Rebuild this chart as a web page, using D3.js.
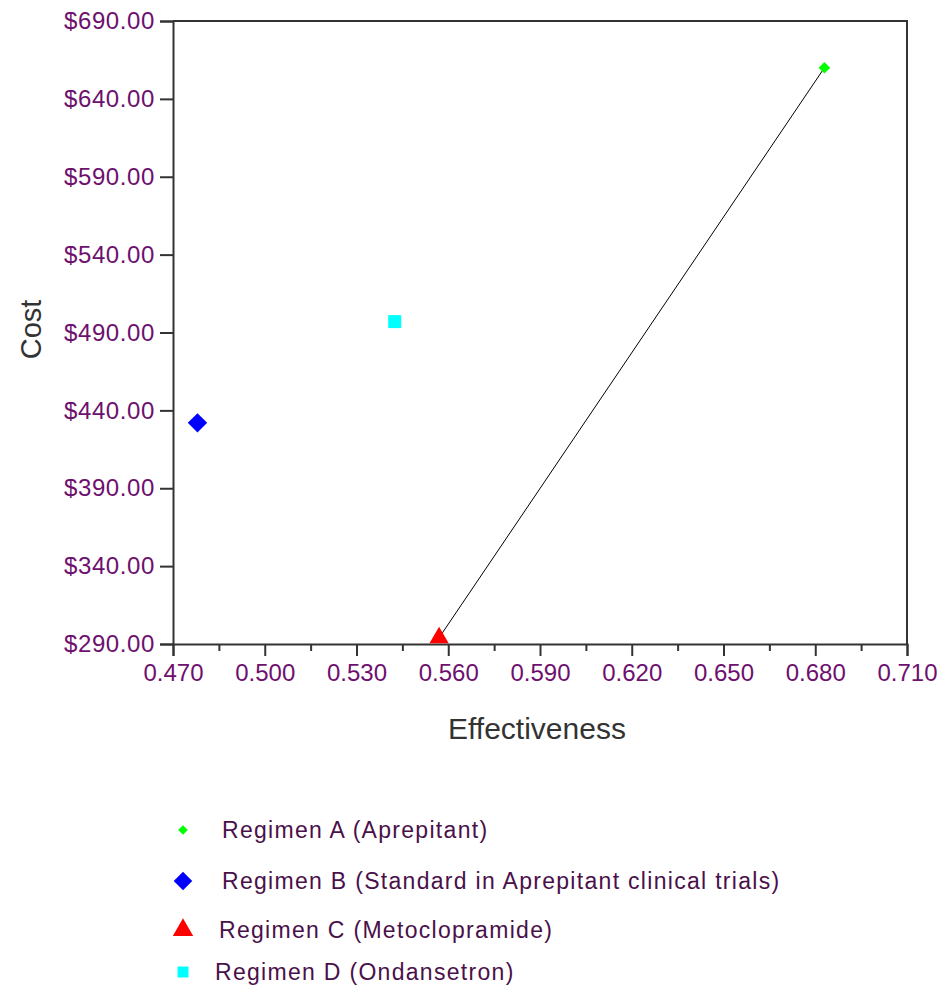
<!DOCTYPE html>
<html>
<head>
<meta charset="utf-8">
<script src="https://cdn.jsdelivr.net/npm/d3@7"></script>
<style>
  body { margin: 0; background: #fff; }
  svg { display: block; }
  text { font-family: 'Liberation Sans', Arial, sans-serif; }
</style>
</head>
<body>
<div id="chart"></div>
<script>
// Regimen cost-effectiveness data
const regimens = ['Regimen A (Aprepitant)', 'Regimen B (Standard in Aprepitant clinical trials)', 'Regimen C (Metoclopramide)', 'Regimen D (Ondansetron)']
const effectiveness = [0.683, 0.478, 0.557, 0.5425]
const cost = [660, 432, 294, 497]
const colors = ['#00ff00', '#0000ff', '#ff0000', '#00ffff']
const shapes = ['diamond', 'diamond', 'triangle', 'square']

// Axis ticks
const xTicks = [0.47, 0.5, 0.53, 0.56, 0.59, 0.62, 0.65, 0.68, 0.71]
const xMinorTicks = [0.485, 0.515, 0.545, 0.575, 0.605, 0.635, 0.665, 0.695]
const yTicks = [290, 340, 390, 440, 490, 540, 590, 640, 690]

// Frontier line connects C -> A
const frontier = [2, 0]

const width = 943
const height = 989
const margin = { top: 21, right: 36, bottom: 345, left: 173 }

const svg = d3
  .select('#chart')
  .append('svg')
  .attr('width', width)
  .attr('height', height)

const x = d3
  .scaleLinear()
  .domain([0.47, 0.71])
  .range([margin.left, width - margin.right])

const y = d3
  .scaleLinear()
  .domain([290, 690])
  .range([height - margin.bottom, margin.top])

const axisColor = '#333'
const tickText = '#6e106e'

// Frame (top and right)
svg
  .append('path')
  .attr('d', `M${x(0.47)},${y(690)}H${x(0.71)}V${y(290)}`)
  .attr('fill', 'none')
  .attr('stroke', axisColor)
  .attr('stroke-width', 2)

// X axis
const xAxis = svg
  .append('g')
  .attr('transform', `translate(0,${y(290)})`)
  .call(
    d3
      .axisBottom(x)
      .tickValues(xTicks)
      .tickFormat(d3.format('.3f'))
      .tickSize(12)
      .tickPadding(8)
  )
xAxis.select('.domain').attr('stroke', axisColor).attr('stroke-width', 2)
xAxis.selectAll('.tick line').attr('stroke', axisColor).attr('stroke-width', 2)
xAxis
  .selectAll('.tick text')
  .attr('fill', tickText)
  .style('font-size', '24px')

svg
  .append('g')
  .attr('transform', `translate(0,${y(290)})`)
  .call(d3.axisBottom(x).tickValues(xMinorTicks).tickSize(7).tickFormat(''))
  .call((g) => g.select('.domain').remove())
  .selectAll('.tick line')
  .attr('stroke', axisColor)
  .attr('stroke-width', 2)

// Y axis
const yAxis = svg
  .append('g')
  .attr('transform', `translate(${x(0.47)},0)`)
  .call(
    d3
      .axisLeft(y)
      .tickValues(yTicks)
      .tickFormat((d) => '$' + d3.format('.2f')(d))
      .tickSize(13)
      .tickPadding(5)
  )
yAxis.select('.domain').attr('stroke', axisColor).attr('stroke-width', 2)
yAxis.selectAll('.tick line').attr('stroke', axisColor).attr('stroke-width', 2)
yAxis
  .selectAll('.tick text')
  .attr('fill', tickText)
  .style('font-size', '24px')
  .style('letter-spacing', '0.6px')

// Axis titles
svg
  .append('text')
  .attr('x', (x(0.47) + x(0.71)) / 2 - 3)
  .attr('y', 739)
  .attr('text-anchor', 'middle')
  .attr('fill', '#333')
  .style('font-size', '30px')
  .text('Effectiveness')

svg
  .append('text')
  .attr('transform', `translate(41,${(y(290) + y(690)) / 2 - 3}) rotate(-90)`)
  .attr('text-anchor', 'middle')
  .attr('fill', '#333')
  .style('font-size', '29px')
  .text('Cost')

// Frontier line
svg
  .append('line')
  .attr('x1', x(effectiveness[frontier[0]]))
  .attr('y1', y(cost[frontier[0]]))
  .attr('x2', x(effectiveness[frontier[1]]))
  .attr('y2', y(cost[frontier[1]]))
  .attr('stroke', '#000')
  .attr('stroke-width', 1)

// Symbol generator for each shape
const symbolSizes = [85, 240, 160, 169]
function symbolPath(shape, size) {
  const type =
    shape === 'diamond'
      ? d3.symbolDiamond2
      : shape === 'triangle'
      ? d3.symbolTriangle
      : d3.symbolSquare
  return d3.symbol().type(type).size(size)()
}

// Points
svg
  .selectAll('.point')
  .data(regimens)
  .join('path')
  .attr('class', 'point')
  .attr('transform', (d, i) => `translate(${x(effectiveness[i])},${y(cost[i])})`)
  .attr('d', (d, i) => symbolPath(shapes[i], symbolSizes[i]))
  .attr('fill', (d, i) => colors[i])

// Legend
const legendRowY = [830, 881, 930, 972]
const legendTextX = [222, 222, 219, 215]
const legendSizes = [60, 220, 180, 120]

const legend = svg
  .selectAll('.legend')
  .data(regimens)
  .join('g')
  .attr('class', 'legend')

legend
  .append('path')
  .attr('transform', (d, i) => `translate(183,${legendRowY[i]})`)
  .attr('d', (d, i) => symbolPath(shapes[i], legendSizes[i]))
  .attr('fill', (d, i) => colors[i])

legend
  .append('text')
  .attr('x', (d, i) => legendTextX[i])
  .attr('y', (d, i) => legendRowY[i])
  .attr('dy', '0.35em')
  .attr('fill', '#4a104a')
  .style('font-size', '23px')
  .style('letter-spacing', '1.3px')
  .text((d) => d)
</script>
</body>
</html>
